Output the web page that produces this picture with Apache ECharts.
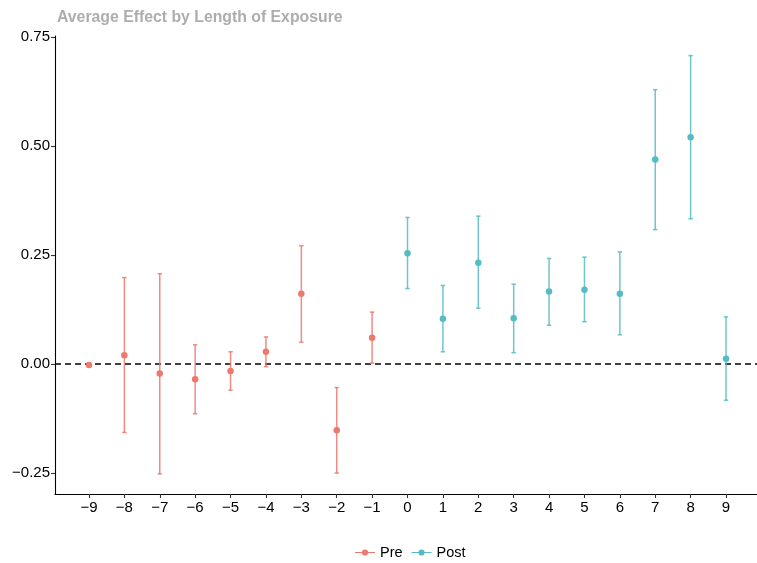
<!DOCTYPE html>
<html>
<head>
<meta charset="utf-8">
<script src="https://cdn.jsdelivr.net/npm/echarts@6/dist/echarts.min.js"></script>
<style>html,body{margin:0;padding:0;background:#fff}#c{width:757px;height:563px}</style>
</head>
<body>
<div id="c"></div>
<script>
const preX = [-9, -8, -7, -6, -5, -4, -3, -2, -1];
const preEst = [-0.002, 0.020, -0.022, -0.035, -0.016, 0.028, 0.161, -0.152, 0.060];
const preLo = [-0.005, -0.157, -0.252, -0.114, -0.060, -0.006, 0.050, -0.250, 0.002];
const preHi = [0.001, 0.198, 0.207, 0.044, 0.028, 0.062, 0.271, -0.054, 0.119];

const postX = [0, 1, 2, 3, 4, 5, 6, 7, 8, 9];
const postEst = [0.254, 0.104, 0.232, 0.105, 0.166, 0.170, 0.161, 0.469, 0.520, 0.012];
const postLo = [0.173, 0.028, 0.128, 0.026, 0.089, 0.097, 0.067, 0.308, 0.333, -0.083];
const postHi = [0.336, 0.180, 0.339, 0.183, 0.242, 0.245, 0.257, 0.629, 0.707, 0.108];

const xTicks = [-9, -8, -7, -6, -5, -4, -3, -2, -1, 0, 1, 2, 3, 4, 5, 6, 7, 8, 9];
const yTicks = [-0.25, 0, 0.25, 0.5, 0.75];

const preColor = '#EC786E';
const postColor = '#55BCC3';
const font = '"Liberation Sans", Arial, Helvetica, sans-serif';

function minus(s) { return String(s).replace('-', '\u2212'); }

function errData(xs, lo, hi) { return xs.map((x, i) => [x, lo[i], hi[i]]); }

function errRender(color) {
  return function (params, api) {
    const x = api.value(0);
    const lo = api.coord([x, api.value(1)]);
    const hi = api.coord([x, api.value(2)]);
    const cw = 2.2;
    const st = { stroke: color, lineWidth: 1.5, opacity: 0.85 };
    return {
      type: 'group',
      children: [
        { type: 'line', shape: { x1: lo[0], y1: lo[1], x2: hi[0], y2: hi[1] }, style: st },
        { type: 'line', shape: { x1: lo[0] - cw, y1: lo[1], x2: lo[0] + cw, y2: lo[1] }, style: st },
        { type: 'line', shape: { x1: hi[0] - cw, y1: hi[1], x2: hi[0] + cw, y2: hi[1] }, style: st }
      ]
    };
  };
}

const legendIcon = 'path://M0,6.4 L20,6.4 L20,7.6 L0,7.6 Z M10,3.9 A3.1,3.1 0 1,1 9.99,3.9 Z';

const chart = echarts.init(document.getElementById('c'), null, { renderer: 'canvas' });
chart.setOption({
  animation: false,
  backgroundColor: '#fff',
  title: {
    text: 'Average Effect by Length of Exposure',
    left: 57, top: 10, padding: 0,
    textStyle: { fontFamily: font, fontSize: 15.8, fontWeight: 'bold', color: '#ADADAD' }
  },
  legend: {
    bottom: 3, left: 355, padding: 0,
    itemWidth: 20, itemHeight: 14, itemGap: 9,
    textStyle: { fontFamily: font, fontSize: 14.5, color: '#000' },
    data: [
      { name: 'Pre', icon: legendIcon, itemStyle: { color: preColor } },
      { name: 'Post', icon: legendIcon, itemStyle: { color: postColor } }
    ]
  },
  grid: { left: 55, right: 0, top: 36, bottom: 69, containLabel: false },
  xAxis: {
    type: 'value', min: -9.96, max: 9.875,
    splitLine: { show: false },
    axisLine: { show: true, onZero: false, lineStyle: { color: '#000', width: 1.1 } },
    axisTick: { show: true, length: 4, customValues: xTicks, lineStyle: { color: '#333', width: 1.1 } },
    axisLabel: { customValues: xTicks, margin: 6, fontFamily: font, fontSize: 15, color: '#000', formatter: v => minus(v) }
  },
  yAxis: {
    type: 'value', min: -0.298, max: 0.752,
    splitLine: { show: false },
    axisLine: { show: true, onZero: false, lineStyle: { color: '#000', width: 1.1 } },
    axisTick: { show: true, length: 4, customValues: yTicks, lineStyle: { color: '#333', width: 1.1 } },
    axisLabel: { customValues: yTicks, margin: 5, fontFamily: font, fontSize: 15, color: '#000', formatter: v => minus(v.toFixed(2)) }
  },
  series: [
    {
      name: 'zero', type: 'line', data: [[-9.96, 0], [9.875, 0]], symbol: 'none', silent: true,
      lineStyle: { color: '#000', width: 1.5, type: [6, 4] }, z: 1
    },
    {
      name: 'Pre', type: 'custom', renderItem: errRender(preColor),
      data: errData(preX, preLo, preHi), encode: { x: 0, y: [1, 2] }, z: 2
    },
    {
      name: 'Post', type: 'custom', renderItem: errRender(postColor),
      data: errData(postX, postLo, postHi), encode: { x: 0, y: [1, 2] }, z: 2
    },
    {
      name: 'Pre', type: 'scatter', symbolSize: 6.5, itemStyle: { color: preColor, opacity: 1 },
      data: preX.map((x, i) => [x, preEst[i]]), z: 3
    },
    {
      name: 'Post', type: 'scatter', symbolSize: 6.5, itemStyle: { color: postColor, opacity: 1 },
      data: postX.map((x, i) => [x, postEst[i]]), z: 3
    }
  ]
});
</script>
</body>
</html>
